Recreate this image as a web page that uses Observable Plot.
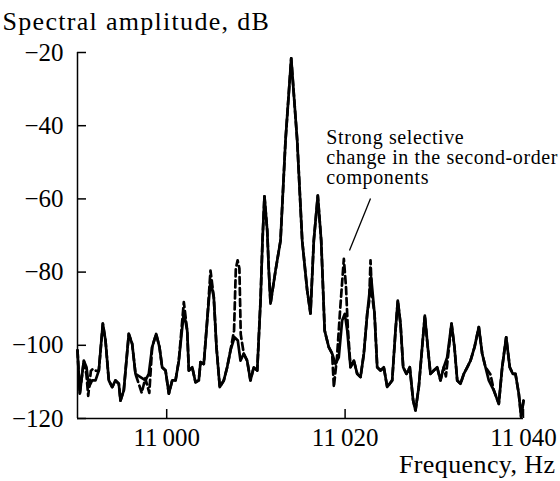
<!DOCTYPE html>
<html><head><meta charset="utf-8">
<script src="https://cdn.jsdelivr.net/npm/d3@7"></script>
<script src="https://cdn.jsdelivr.net/npm/@observablehq/plot@0.6"></script>
<style>html,body{margin:0;padding:0;background:#fff}</style>
</head><body><div id="chart"></div>
<script>
const solidFreq = [10990.0,10990.26,10990.71,10991.01,10991.27,10991.64,10992.02,10992.39,10992.84,10993.14,10993.51,10993.89,10994.26,10994.63,10994.82,10995.19,10995.75,10996.13,10996.5,10997.06,10997.62,10997.99,10998.37,10998.82,10999.19,10999.49,10999.87,11000.24,11000.62,11000.99,11001.36,11001.92,11002.3,11002.48,11002.86,11003.23,11003.6,11003.79,11004.16,11004.54,11004.91,11005.28,11005.58,11005.95,11006.4,11006.78,11007.15,11007.6,11007.97,11008.27,11008.64,11009.02,11009.39,11009.76,11010.15,11010.52,11010.74,11010.96,11011.27,11011.45,11011.64,11012.2,11012.76,11013.32,11013.96,11014.63,11015.19,11015.75,11016.12,11016.49,11016.94,11017.32,11017.71,11018.17,11018.55,11018.92,11019.29,11019.67,11019.97,11020.24,11020.61,11020.98,11021.36,11021.73,11022.1,11022.48,11022.92,11023.3,11023.6,11023.97,11024.34,11024.72,11025.28,11025.65,11025.91,11026.21,11026.51,11026.88,11027.25,11027.63,11027.89,11028.26,11028.64,11028.94,11029.27,11029.57,11029.94,11030.32,11030.69,11031.06,11031.44,11031.93,11032.26,11032.57,11032.94,11033.31,11033.69,11034.06,11034.51,11034.99,11035.37,11035.74,11036.11,11036.67,11037.23,11037.61,11038.06,11038.46,11038.8,11039.1,11039.47,11039.74,11040.0];
const solidDb = [-101.4,-113.2,-104.2,-106.0,-111.4,-109.6,-109.6,-106.9,-94.1,-98.7,-109.6,-111.4,-109.6,-110.5,-115.1,-112.3,-96.9,-99.6,-107.8,-108.7,-109.6,-107.8,-100.5,-96.9,-100.5,-106.0,-106.9,-113.2,-109.6,-109.6,-104.2,-91.0,-96.0,-106.9,-106.0,-110.1,-109.6,-104.6,-105.1,-93.2,-82.3,-86.9,-100.5,-111.4,-109.6,-106.0,-101.4,-97.8,-98.7,-104.2,-102.3,-104.2,-109.6,-106.0,-106.9,-87.8,-71.4,-59.3,-68.6,-79.6,-88.6,-79.6,-71.4,-44.0,-21.6,-44.0,-71.4,-85.0,-91.3,-71.4,-59.1,-71.4,-96.0,-100.5,-102.3,-105.1,-103.3,-93.2,-91.4,-96.0,-106.0,-104.2,-107.8,-108.7,-102.3,-91.4,-81.4,-91.4,-106.0,-106.9,-106.0,-111.4,-109.6,-96.0,-87.8,-94.1,-106.0,-107.8,-106.0,-115.1,-117.8,-111.4,-100.5,-91.9,-100.5,-107.8,-106.9,-106.0,-109.6,-106.0,-103.3,-94.1,-100.5,-109.6,-110.5,-107.8,-106.0,-104.2,-100.5,-95.0,-102.3,-106.0,-109.6,-112.3,-116.0,-106.0,-97.8,-106.0,-107.8,-107.8,-113.2,-119.6,-115.1];

const dashFreq = [10990.0,10990.26,10990.71,10991.0,10991.2,10991.5,10991.7,10992.1,10992.39,10992.84,10993.14,10993.51,10993.89,10994.26,10994.63,10994.82,10995.19,10995.75,10996.13,10996.5,10997.2,10997.6,10998.05,10998.37,10998.82,10999.19,10999.49,10999.87,11000.24,11000.62,11000.99,11001.36,11001.92,11002.3,11002.48,11002.86,11003.23,11003.6,11003.79,11004.16,11004.54,11004.91,11005.28,11005.58,11005.95,11006.4,11006.78,11007.15,11007.55,11007.75,11007.95,11008.15,11008.3,11008.64,11009.02,11009.39,11009.76,11010.15,11010.52,11010.74,11010.96,11011.27,11011.45,11011.64,11012.2,11012.76,11013.32,11013.96,11014.63,11015.19,11015.75,11016.12,11016.49,11016.94,11017.32,11017.71,11018.17,11018.55,11018.74,11019.1,11019.45,11019.86,11020.1,11020.3,11020.61,11020.98,11021.36,11021.73,11022.1,11022.48,11022.7,11022.85,11023.0,11023.3,11023.6,11023.97,11024.34,11024.72,11025.28,11025.65,11025.91,11026.21,11026.51,11026.88,11027.25,11027.63,11027.89,11028.26,11028.64,11028.94,11029.27,11029.57,11029.94,11030.32,11030.69,11031.06,11031.3,11031.93,11032.26,11032.57,11032.94,11033.31,11033.69,11034.06,11034.51,11034.99,11035.37,11035.74,11036.3,11036.67,11037.23,11037.61,11038.06,11038.46,11038.8,11039.1,11039.47,11039.74,11040.0];
const dashDb = [-101.4,-113.2,-104.2,-108.0,-113.8,-107.0,-106.5,-107.0,-106.9,-94.1,-98.7,-109.6,-111.4,-109.6,-110.5,-115.1,-112.3,-96.9,-99.6,-107.8,-113.0,-109.0,-113.0,-100.5,-96.9,-100.5,-106.0,-106.9,-113.2,-109.6,-109.6,-104.2,-88.2,-96.0,-106.9,-106.0,-110.1,-109.6,-104.6,-105.1,-93.2,-79.6,-86.9,-100.5,-111.4,-109.6,-106.0,-101.4,-96.0,-79.0,-76.8,-79.0,-97.0,-102.3,-104.2,-109.6,-106.0,-106.9,-87.8,-71.4,-59.3,-68.6,-79.6,-88.6,-79.6,-71.4,-44.0,-21.6,-44.0,-71.4,-85.0,-91.3,-71.4,-59.1,-71.4,-96.0,-100.5,-102.3,-111.4,-103.0,-90.0,-76.4,-84.0,-95.0,-106.0,-104.2,-107.8,-108.7,-102.3,-91.4,-88.0,-76.8,-86.0,-91.4,-106.0,-106.9,-106.0,-111.4,-109.6,-96.0,-87.8,-94.1,-106.0,-107.8,-106.0,-115.1,-117.8,-111.4,-100.5,-91.9,-100.5,-107.8,-106.9,-106.0,-109.6,-106.0,-108.5,-94.1,-100.5,-109.6,-110.5,-107.8,-106.0,-104.2,-100.5,-95.0,-102.3,-106.0,-108.0,-112.3,-116.0,-106.0,-97.8,-106.0,-107.8,-107.8,-113.2,-119.6,-115.1];

const xTicks = [11000, 11020, 11040];
const xTickLabels = ["11\u2009000", "11\u2009020", "11\u2009040"];
const yTicks = [-120, -100, -80, -60, -40, -20];
const yTickLabels = ["\u2212120", "\u2212100", "\u221280", "\u221260", "\u221240", "\u221220"];
const titleText = "Spectral amplitude, dB";
const xLabelText = "Frequency, Hz";
const noteLines = ["Strong selective", "change in the second-order", "components"];
const notePos = [{x: 11017.9, y: -41.0}];
const leaderPos = [{x1: 11022.85, y1: -59.9, x2: 11020.49, y2: -74.1}];

const solid = solidFreq.map((f, i) => ({f, v: solidDb[i]}));
const dashed = dashFreq.map((f, i) => ({f, v: dashDb[i]}));

const chart = Plot.plot({
  width: 560, height: 481,
  marginLeft: 77, marginRight: 37, marginTop: 52, marginBottom: 63,
  style: {fontFamily: "'Liberation Serif', 'Times New Roman', serif", fontSize: "25px", color: "#000", background: "#fff"},
  x: {domain: [10990, 11040], label: null},
  y: {domain: [-120, -20], label: null},
  marks: [
    Plot.line(dashed, {x: "f", y: "v", stroke: "#000", strokeWidth: 2.7, strokeDasharray: "7,4", strokeLinejoin: "round"}),
    Plot.line(solid, {x: "f", y: "v", stroke: "#000", strokeWidth: 2.7, strokeLinejoin: "round"}),
    Plot.ruleX([10990], {stroke: "#000", strokeWidth: 1.5}),
    Plot.ruleY([-120], {stroke: "#000", strokeWidth: 1.5}),
    Plot.axisY(yTicks, {tickFormat: d => yTickLabels[yTicks.indexOf(d)], tickSize: -9, tickPadding: 23, strokeWidth: 1.5, fontSize: 25, label: null}),
    Plot.axisX(xTicks, {tickFormat: d => xTickLabels[xTicks.indexOf(d)], tickSize: -9, tickPadding: 19, strokeWidth: 1.5, fontSize: 25, label: null}),
    Plot.text([titleText], {frameAnchor: "top-left", textAnchor: "start", lineAnchor: "bottom", dx: -75, dy: -23, fontSize: 26}),
    Plot.text([xLabelText], {frameAnchor: "bottom-right", textAnchor: "end", lineAnchor: "bottom", dx: 32, dy: 54, fontSize: 26}),
    Plot.text(notePos, {x: "x", y: "y", text: () => noteLines.join("\n"), textAnchor: "start", lineAnchor: "top", fontSize: 20, lineHeight: 1.0}),
    Plot.link(leaderPos, {x1: "x1", y1: "y1", x2: "x2", y2: "y2", stroke: "#000", strokeWidth: 1.3})
  ]
});
const spacing = new Map([[titleText, "1.3px"], [xLabelText, "0.4px"]]);
d3.select(chart).selectAll("text").each(function () {
  const t = this.textContent;
  if (spacing.has(t)) d3.select(this).style("letter-spacing", spacing.get(t));
  if (noteLines.some(l => t.includes(l))) d3.select(this).style("letter-spacing", "0.6px");
});
document.getElementById("chart").appendChild(chart);
</script>
</body></html>
